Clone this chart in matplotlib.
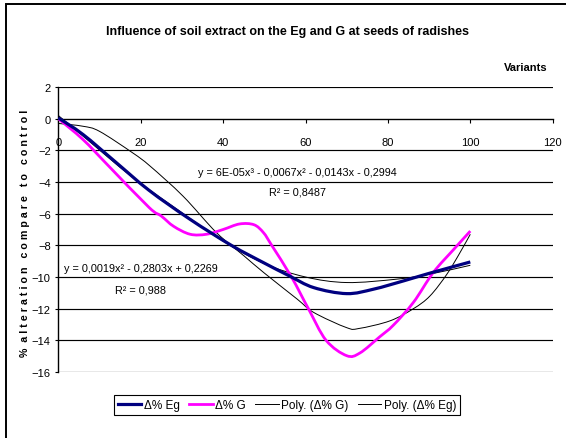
import matplotlib
matplotlib.use("Agg")
import matplotlib.pyplot as plt
from matplotlib.path import Path
from matplotlib.patches import PathPatch, Rectangle
from matplotlib.lines import Line2D
from matplotlib import font_manager

names = {f.name for f in font_manager.fontManager.ttflist}
FONT = "Liberation Sans Narrow" if "Liberation Sans Narrow" in names else "Liberation Sans"
plt.rcParams["font.family"] = [FONT, "DejaVu Sans"]

# ---------------- data ----------------
title = "Influence of soil extract on the Eg and G at seeds of radishes"
xlabel = "Variants"
ylabel = "%  a l t e r a t i o n   c o m p a r e   t o   c o n t r o l"
x_ticks = [0, 20, 40, 60, 80, 100, 120]
y_ticks = [2, 0, -2, -4, -6, -8, -10, -12, -14, -16]

eg_x = [0, 6, 14, 22, 32, 42, 50, 56, 62, 70, 76.5, 84, 90, 100]
eg_y = [0.05, -1.0, -2.76, -4.52, -6.36, -8.0, -9.12, -9.92, -10.67, -11.05, -10.77, -10.23, -9.77, -9.05]

g_x = [0, 6, 12, 22, 25, 28, 32, 36, 40, 44, 47.5, 49.8, 51.8, 56.6, 60.7, 65, 70, 73.2, 78, 81.3, 86.2, 91, 96, 100]
g_y = [0, -1.32, -2.93, -5.6, -6.15, -6.8, -7.3, -7.3, -7.0, -6.65, -6.7, -7.2, -8.0, -10.0, -12.0, -14.0, -14.97, -14.8, -13.78, -13.05, -11.6, -9.72, -8.25, -7.1]

polyg_x = [0, 6, 10, 18, 22.3, 30.3, 38.4, 45, 50, 58, 62, 70, 73, 80.5, 86.2, 90.2, 94.3, 97.5, 100]
polyg_y = [-0.3, -0.48, -0.8, -2.15, -3.0, -4.9, -7.2, -8.65, -9.75, -11.4, -12.24, -13.2, -13.25, -12.77, -12.0, -11.2, -9.83, -8.46, -7.3]

polyeg_x = [0, 6, 18, 30, 40, 50, 60, 70, 82, 90, 100]
polyeg_y = [0.2, -1.1, -3.7, -5.94, -7.73, -9.15, -10.0, -10.35, -10.14, -9.83, -9.26]

eq_g = "y = 6E-05x³ - 0,0067x² - 0,0143x - 0,2994"
r2_g = "R² = 0,8487"
eq_eg = "y = 0,0019x² - 0,2803x + 0,2269"
r2_eg = "R² = 0,988"

legend_labels = ["Δ% Eg", "Δ% G", "Poly. (Δ% G)", "Poly. (Δ% Eg)"]

# ---------------- styling ----------------
BLUE = "#000080"
MAGENTA = "#FF00FF"
W, H = 566, 439


def smooth_path(xs, ys):
    """Excel-like smoothed line: Catmull-Rom segments as cubic Bezier curves."""
    pts = list(zip(xs, ys))
    n = len(pts)
    verts = [pts[0]]
    codes = [Path.MOVETO]
    for i in range(n - 1):
        p0 = pts[i - 1] if i > 0 else pts[i]
        p1 = pts[i]
        p2 = pts[i + 1]
        p3 = pts[i + 2] if i + 2 < n else pts[i + 1]
        c1 = (p1[0] + (p2[0] - p0[0]) / 6.0, p1[1] + (p2[1] - p0[1]) / 6.0)
        c2 = (p2[0] - (p3[0] - p1[0]) / 6.0, p2[1] - (p3[1] - p1[1]) / 6.0)
        verts += [c1, c2, p2]
        codes += [Path.CURVE4, Path.CURVE4, Path.CURVE4]
    return Path(verts, codes)


fig = plt.figure(figsize=(W / 100, H / 100), dpi=100)

# outer chart frame (extends beyond right and bottom edges)
fig.patches.append(Rectangle((6 / W, -0.05), 1.2, 1 - 5 / H + 0.05, transform=fig.transFigure,
                             fill=False, edgecolor="black", linewidth=1.4, zorder=0))

x0, x1, ytop, ybot = 58.3, 552.7, 88, 373
ax = fig.add_axes([x0 / W, 1 - ybot / H, (x1 - x0) / W, (ybot - ytop) / H])
ax.set_xlim(0, 120)
ax.set_ylim(-16, 2)
ax.patch.set_visible(False)

for s in ["top", "right"]:
    ax.spines[s].set_visible(False)
ax.spines["bottom"].set_position(("data", 0))
ax.spines["bottom"].set_linewidth(1.0)
ax.spines["left"].set_linewidth(1.0)

ax.set_xticks(x_ticks)
ax.set_yticks(y_ticks)
ax.tick_params(axis="x", direction="out", length=3, width=0.8, pad=10, labelsize=8)
ax.tick_params(axis="y", direction="out", length=2.5, width=0.8, pad=3, labelsize=8)

for yv in y_ticks:
    if yv != 0:
        ax.axhline(yv, color="black", linewidth=0.85, zorder=1)

# trend lines
ax.add_patch(PathPatch(smooth_path(polyg_x, polyg_y), fill=False, edgecolor="black", linewidth=0.7, zorder=3))
ax.add_patch(PathPatch(smooth_path(polyeg_x, polyeg_y), fill=False, edgecolor="black", linewidth=0.7, zorder=3))
# data series
ax.add_patch(PathPatch(smooth_path(g_x, g_y), fill=False, edgecolor=MAGENTA, linewidth=2.0, zorder=4))
ax.add_patch(PathPatch(smooth_path(eg_x, eg_y), fill=False, edgecolor=BLUE, linewidth=2.3, zorder=5))

# equations
ax.text(58, -3.4, eq_g, ha="center", va="center", fontsize=7.8, zorder=6)
ax.text(58, -4.6, r2_g, ha="center", va="center", fontsize=7.8, zorder=6)
ax.text(20, -9.4, eq_eg, ha="center", va="center", fontsize=7.8, zorder=6)
ax.text(20, -10.8, r2_eg, ha="center", va="center", fontsize=7.8, zorder=6)

# title / axis labels
fig.text(288 / W, 1 - 32 / H, title, ha="center", va="center", fontsize=9, fontweight="bold")
fig.text(548 / W, 1 - 68 / H, xlabel, ha="right", va="center", fontsize=8, fontweight="bold")
fig.text(25 / W, 1 - 233 / H, ylabel, ha="center", va="center", rotation=90, fontsize=7.7, fontweight="bold")

# legend
handles = [Line2D([], [], color=BLUE, linewidth=2.3),
           Line2D([], [], color=MAGENTA, linewidth=2.0),
           Line2D([], [], color="black", linewidth=0.7),
           Line2D([], [], color="black", linewidth=0.7)]
leg = fig.legend(handles, legend_labels, loc="center", bbox_to_anchor=(287 / W, 1 - 406 / H),
                 ncol=4, fontsize=8.5, frameon=True, fancybox=False, framealpha=1,
                 edgecolor="black", handlelength=2.0, handletextpad=0.2, columnspacing=0.8,
                 borderpad=0.35, borderaxespad=0)
leg.get_frame().set_linewidth(0.8)

fig.savefig("out.png", dpi=100)
